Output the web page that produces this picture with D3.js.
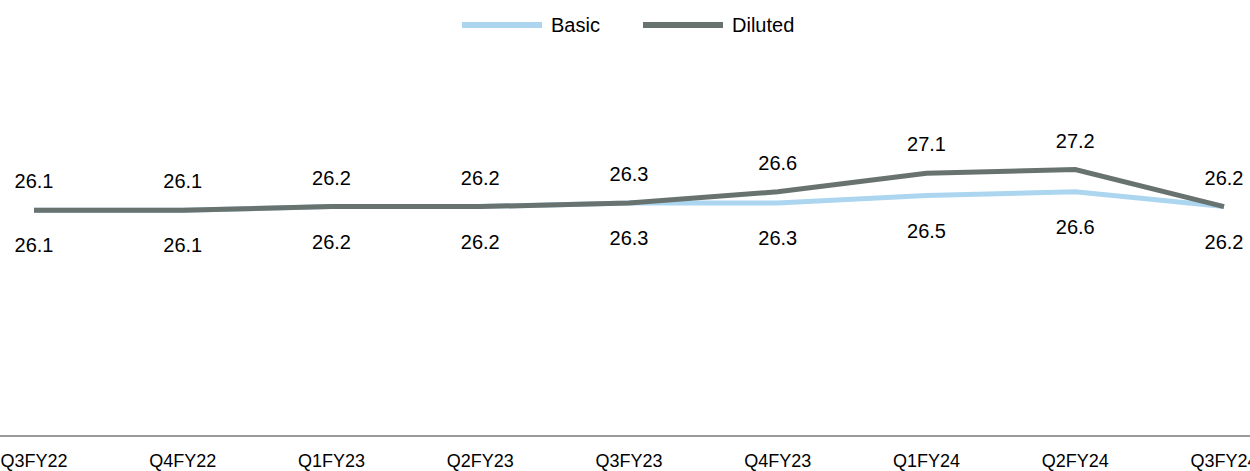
<!DOCTYPE html>
<html>
<head>
<meta charset="utf-8">
<script src="https://cdn.jsdelivr.net/npm/d3@7"></script>
<style>
  body { margin: 0; background: #fff; }
  svg { display: block; font-family: "Liberation Sans", Arial, sans-serif; }
</style>
</head>
<body>
<div id="chart"></div>
<script>
const quarters = ["Q3FY22", "Q4FY22", "Q1FY23", "Q2FY23", "Q3FY23", "Q4FY23", "Q1FY24", "Q2FY24", "Q3FY24"];
const basic = [26.1, 26.1, 26.2, 26.2, 26.3, 26.3, 26.5, 26.6, 26.2];
const diluted = [26.1, 26.1, 26.2, 26.2, 26.3, 26.6, 27.1, 27.2, 26.2];

const width = 1250;
const height = 471;

const series = [
  { name: "Basic", values: basic, color: "#acd6f0", dy: 42 },
  { name: "Diluted", values: diluted, color: "#687370", dy: -22 }
];

const svg = d3.select("#chart")
  .append("svg")
  .attr("width", width)
  .attr("height", height);

const x = d3.scalePoint().domain(quarters).range([34, 1224]);
const y = d3.scaleLinear().domain([20, 30]).range([436, 66]);

// axis baseline + labels
svg.append("line")
  .attr("x1", 0).attr("x2", width)
  .attr("y1", y(20)).attr("y2", y(20))
  .attr("stroke", "#9a9a9a")
  .attr("stroke-width", 2);

svg.selectAll(".xlab")
  .data(quarters)
  .enter()
  .append("text")
  .attr("x", d => x(d))
  .attr("y", 467)
  .attr("text-anchor", "middle")
  .attr("font-size", 18)
  .attr("fill", "#000")
  .text(d => d);

const line = d3.line()
  .x((d, i) => x(quarters[i]))
  .y(d => y(d));

series.forEach(s => {
  svg.append("path")
    .datum(s.values)
    .attr("d", line)
    .attr("fill", "none")
    .attr("stroke", s.color)
    .attr("stroke-width", 5);
});

series.forEach(s => {
  svg.selectAll(".lab-" + s.name)
    .data(s.values)
    .enter()
    .append("text")
    .attr("x", (d, i) => x(quarters[i]))
    .attr("y", d => y(d) + s.dy)
    .attr("text-anchor", "middle")
    .attr("font-size", 20)
    .attr("fill", "#000")
    .text(d => d.toFixed(1));
});

// legend
const legend = svg.append("g");
const legendX = [462, 643];
series.forEach((s, i) => {
  legend.append("line")
    .attr("x1", legendX[i]).attr("x2", legendX[i] + 80)
    .attr("y1", 25).attr("y2", 25)
    .attr("stroke", s.color)
    .attr("stroke-width", 6);
  legend.append("text")
    .attr("x", legendX[i] + 89)
    .attr("y", 32)
    .attr("font-size", 20)
    .attr("fill", "#000")
    .text(s.name);
});
</script>
</body>
</html>
